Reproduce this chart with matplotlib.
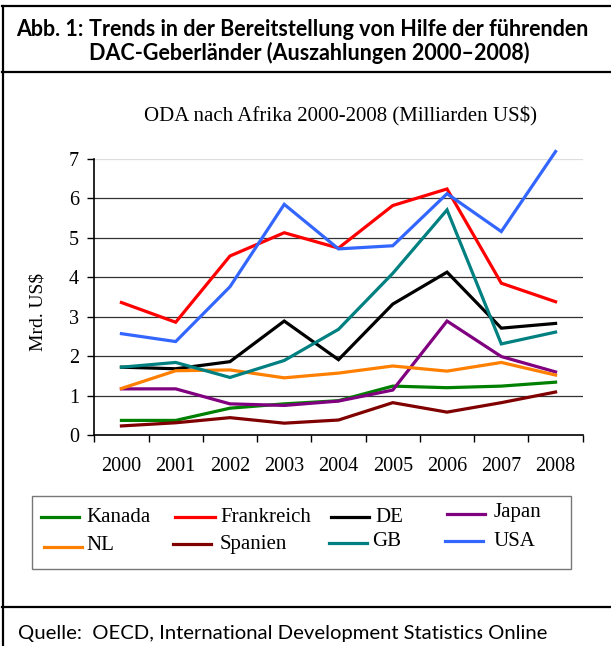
import matplotlib
matplotlib.use("Agg")
import matplotlib.pyplot as plt
from matplotlib.lines import Line2D
import matplotlib.patches as patches

W, H = 611, 646

years = ["2000", "2001", "2002", "2003", "2004", "2005", "2006", "2007", "2008"]

kanada = [0.37, 0.37, 0.68, 0.79, 0.87, 1.24, 1.20, 1.24, 1.34]
frankreich = [3.36, 2.86, 4.54, 5.13, 4.74, 5.82, 6.24, 3.85, 3.38]
de = [1.72, 1.68, 1.86, 2.89, 1.91, 3.32, 4.13, 2.71, 2.83]
japan = [1.17, 1.17, 0.79, 0.75, 0.86, 1.14, 2.89, 1.99, 1.60]
nl = [1.18, 1.63, 1.65, 1.45, 1.57, 1.75, 1.62, 1.84, 1.52]
spanien = [0.23, 0.31, 0.44, 0.30, 0.38, 0.82, 0.58, 0.82, 1.09]
gb = [1.72, 1.84, 1.46, 1.89, 2.68, 4.10, 5.71, 2.31, 2.61]
usa = [2.57, 2.37, 3.76, 5.85, 4.72, 4.80, 6.12, 5.16, 7.19]

names = ["Kanada", "Frankreich", "DE", "Japan", "NL", "Spanien", "GB", "USA"]
series = [kanada, frankreich, de, japan, nl, spanien, gb, usa]
colors = ["#008000", "#ff0000", "#000000", "#800080",
          "#ff7f00", "#800000", "#008080", "#3366ff"]

serif = "Liberation Serif"
sans = "Lato"

fig = plt.figure(figsize=(W / 100, H / 100), dpi=100)


def fx(x):
    return x / W


def fy(y):
    return 1 - y / H


# outer frame lines
fig.add_artist(Line2D([fx(3), fx(3)], [fy(6), fy(646)], color="black", lw=1.6))
fig.add_artist(Line2D([fx(2), fx(611)], [fy(6), fy(6)], color="black", lw=1.6))
fig.add_artist(Line2D([fx(2), fx(611)], [fy(72), fy(72)], color="black", lw=1.6))
fig.add_artist(Line2D([fx(2), fx(611)], [fy(607), fy(607)], color="black", lw=1.6))

# header
fig.text(fx(16), fy(36), "Abb. 1:", fontsize=15.5, fontweight="bold", family=sans)
fig.text(fx(89), fy(36), "Trends in der Bereitstellung von Hilfe der führenden",
         fontsize=15.5, fontweight="bold", family=sans)
fig.text(fx(89), fy(60), "DAC-Geberländer (Auszahlungen 2000–2008)",
         fontsize=15.5, fontweight="bold", family=sans)

fig.text(fx(18), fy(639), "Quelle:  OECD, International Development Statistics Online",
         fontsize=14.6, family=sans)

fig.text(fx(340), fy(116), "ODA nach Afrika 2000-2008 (Milliarden US$)",
         fontsize=15, family=serif, ha="center", va="center")

# chart
ax = fig.add_axes([fx(94.3), fy(435), (582.7 - 94.3) / W, (435 - 159) / H])
x = list(range(len(years)))
for vals, c, n in zip(series, colors, names):
    ax.plot(x, vals, color=c, lw=2.3, label=n, solid_joinstyle="miter",
            zorder=3, clip_on=False)

ax.set_xlim(-0.5, len(years) - 0.5)
ax.set_ylim(0, 7)
ax.set_yticks(range(0, 8))
ax.set_xticks(x)
ax.set_xticklabels(years, family=serif, fontsize=14.5)
ax.set_xticks([i - 0.5 for i in range(len(years) + 1)], minor=True)
ax.tick_params(axis="x", which="major", length=0, pad=16)
ax.tick_params(axis="x", which="minor", length=5, width=1, direction="out")
ax.tick_params(axis="y", length=5, width=1, pad=6, labelsize=14.5)
for lab in ax.get_yticklabels():
    lab.set_family(serif)

for v in range(1, 7):
    ax.axhline(v, color="#333333", lw=0.9, zorder=1)
ax.axhline(7, color="#dddddd", lw=0.9, zorder=1)

for s in ["top", "right"]:
    ax.spines[s].set_visible(False)
ax.spines["left"].set_linewidth(1.2)
ax.spines["bottom"].set_linewidth(1.2)

fig.text(fx(38), fy(312), "Mrd. US$", rotation=90, family=serif, fontsize=14,
         ha="center", va="center")

# legend box
fig.add_artist(patches.Rectangle((fx(32), fy(569)), (571 - 32) / W, (569 - 495.5) / H,
                                 transform=fig.transFigure, fill=False,
                                 edgecolor="#777777", lw=1.0))

legend_pos = [
    (41, 79, 517, 86, 517),
    (175, 215, 517, 220, 517),
    (331, 369, 517, 375, 518),
    (447, 485, 514, 494, 513),
    (44, 82, 547, 86, 545),
    (173, 211, 544, 220, 545),
    (329, 367, 543, 372, 542),
    (445, 483, 541, 494, 542),
]
for (x0, x1, ly, tx, ty), c, n in zip(legend_pos, colors, names):
    fig.add_artist(Line2D([fx(x0), fx(x1)], [fy(ly), fy(ly)], color=c, lw=2.3))
    fig.text(fx(tx), fy(ty), n, family=serif, fontsize=15, va="center")

fig.savefig("out.png", dpi=100)
